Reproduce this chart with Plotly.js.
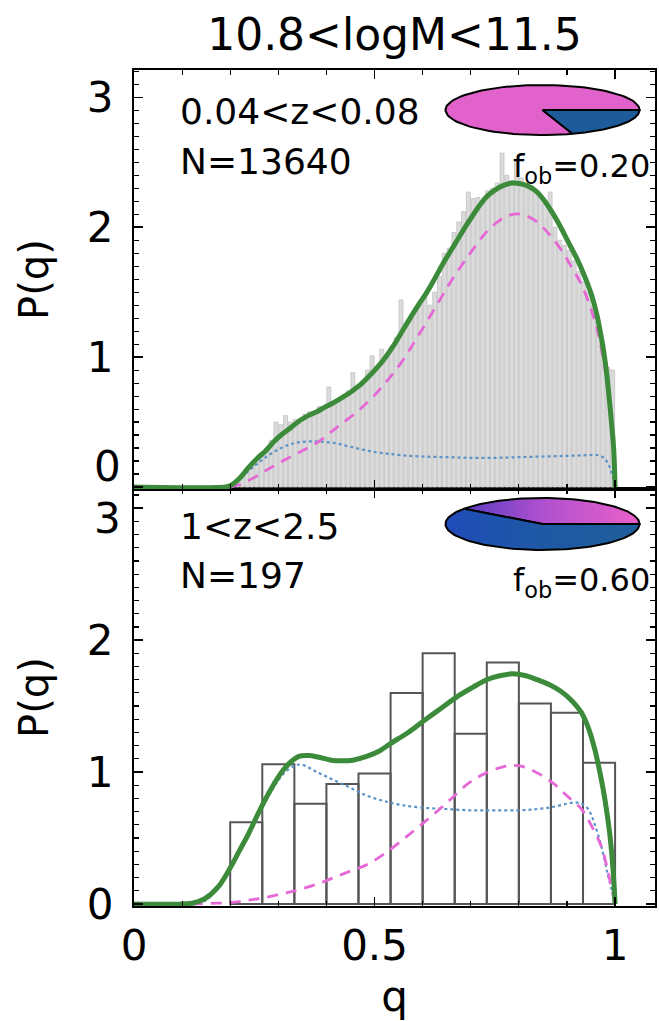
<!DOCTYPE html>
<html><head><meta charset="utf-8">
<script src="https://cdn.plot.ly/plotly-3.0.1.min.js"></script>
<style>html,body{margin:0;padding:0;background:#fff}#chart{width:659px;height:1021px}</style>
</head><body><div id="chart"></div>
<script>
// ---------- DATA ----------
const massTitle = '10.8&lt;logM&lt;11.5';
const panelLabels = ['0.04&lt;z&lt;0.08', '1&lt;z&lt;2.5'];
const panelN = ['N=13640', 'N=197'];
const fob = [0.20, 0.60];
const xTickVals = [0, 0.5, 1];
const yTickVals = [0, 1, 2, 3];
const yTickText = ['0', '1', '2', '3'];

// top panel histogram (bin width 0.01)
const topHistQ = [0.205,0.215,0.225,0.235,0.245,0.255,0.265,0.275,0.285,0.295,
  0.305,0.315,0.325,0.335,0.345,0.355,0.365,0.375,0.385,0.395,
  0.405,0.415,0.425,0.435,0.445,0.455,0.465,0.475,0.485,0.495,
  0.505,0.515,0.525,0.535,0.545,0.555,0.565,0.575,0.585,0.595,
  0.605,0.615,0.625,0.635,0.645,0.655,0.665,0.675,0.685,0.695,
  0.705,0.715,0.725,0.735,0.745,0.755,0.765,0.775,0.785,0.795,
  0.805,0.815,0.825,0.835,0.845,0.855,0.865,0.875,0.885,0.895,
  0.905,0.915,0.925,0.935,0.945,0.955,0.965,0.975,0.985,0.995];
const topHistP = [0.03,0.06,0.10,0.14,0.18,0.22,0.26,0.30,0.36,0.50,
  0.48,0.55,0.50,0.52,0.49,0.56,0.58,0.55,0.62,0.60,
  0.77,0.66,0.68,0.70,0.74,0.88,0.76,0.80,0.90,1.01,
  0.93,1.06,1.02,1.08,1.15,1.44,1.25,1.30,1.38,1.42,
  1.46,1.40,1.50,1.62,1.80,1.84,1.96,2.04,2.12,2.27,
  2.22,2.23,2.20,2.28,2.30,2.34,2.57,2.40,2.36,2.52,
  2.38,2.30,2.32,2.27,2.24,2.20,2.27,2.00,1.90,1.86,
  1.82,1.74,1.66,1.58,1.50,1.40,1.28,1.10,0.92,0.90];

// top panel model curves
const topSumQ = [0,0.19,0.2,0.22,0.238,0.256,0.274,0.291,0.309,0.327,0.344,0.362,0.38,0.397,0.415,0.433,0.45,0.468,0.485,0.503,0.521,0.538,0.556,0.574,0.591,0.609,0.626,0.644,0.662,0.68,0.697,0.715,0.732,0.75,0.767,0.787,0.803,0.817,0.835,0.852,0.87,0.887,0.905,0.923,0.937,0.951,0.962,0.972,0.98,0.986,0.992,0.997,1.0];
const topSumP = [0,0,0.01,0.07,0.15,0.22,0.28,0.35,0.41,0.46,0.51,0.55,0.58,0.615,0.65,0.69,0.73,0.78,0.84,0.91,0.99,1.08,1.19,1.30,1.40,1.50,1.61,1.73,1.84,1.95,2.05,2.15,2.23,2.285,2.32,2.34,2.335,2.32,2.28,2.21,2.11,2.0,1.87,1.74,1.62,1.48,1.33,1.14,0.95,0.75,0.52,0.3,0];
const topPinkQ = [0.2,0.22,0.253,0.28,0.309,0.345,0.38,0.405,0.429,0.457,0.485,0.52,0.556,0.59,0.626,0.66,0.697,0.732,0.767,0.79,0.803,0.82,0.838,0.862,0.887,0.91,0.93,0.95,0.965,0.977,0.986,0.993,1.0];
const topPinkP = [0,0.02,0.08,0.14,0.2,0.27,0.34,0.41,0.48,0.56,0.65,0.79,0.96,1.16,1.38,1.59,1.79,1.96,2.07,2.10,2.10,2.08,2.04,1.95,1.83,1.69,1.56,1.37,1.18,0.95,0.72,0.45,0];
const topBlueQ = [0.18,0.2,0.224,0.25,0.274,0.3,0.33,0.358,0.385,0.415,0.45,0.485,0.52,0.556,0.6,0.65,0.7,0.75,0.8,0.85,0.9,0.94,0.965,0.978,0.988,0.995,1.0];
const topBlueP = [0,0.01,0.08,0.16,0.23,0.29,0.335,0.35,0.35,0.34,0.31,0.28,0.26,0.245,0.235,0.23,0.225,0.225,0.23,0.235,0.24,0.245,0.245,0.22,0.16,0.08,0];

// bottom panel histogram (bin width 1/15)
const lowHistQ = [0.2333,0.3,0.3667,0.4333,0.5,0.5667,0.6333,0.7,0.7667,0.8333,0.9,0.9667];
const lowHistP = [0.62,1.06,0.76,0.91,0.99,1.60,1.90,1.29,1.83,1.52,1.45,1.07];

// bottom panel model curves
const lowSumQ = [0,0.1,0.125,0.147,0.175,0.201,0.22,0.239,0.256,0.274,0.291,0.309,0.327,0.344,0.365,0.387,0.41,0.429,0.455,0.485,0.51,0.535,0.57,0.603,0.637,0.671,0.703,0.733,0.76,0.787,0.815,0.838,0.865,0.888,0.91,0.93,0.945,0.958,0.97,0.979,0.989,0.996,1.0];
const lowSumP = [0,0,0.01,0.04,0.13,0.28,0.41,0.54,0.67,0.80,0.91,1.01,1.08,1.12,1.125,1.11,1.09,1.085,1.09,1.12,1.16,1.22,1.30,1.39,1.48,1.57,1.64,1.70,1.73,1.745,1.73,1.70,1.66,1.61,1.54,1.45,1.33,1.17,0.97,0.79,0.53,0.25,0];
const lowPinkQ = [0.12,0.16,0.2,0.24,0.274,0.31,0.344,0.38,0.415,0.45,0.485,0.52,0.556,0.59,0.626,0.66,0.697,0.73,0.767,0.79,0.81,0.84,0.873,0.9,0.93,0.95,0.972,0.985,0.995,1.0];
const lowPinkP = [0,0.005,0.01,0.03,0.05,0.08,0.11,0.15,0.2,0.25,0.30,0.38,0.48,0.58,0.69,0.80,0.92,0.99,1.04,1.05,1.04,0.99,0.91,0.82,0.72,0.60,0.43,0.25,0.08,0];
const lowBlueQ = [0.12,0.15,0.2,0.24,0.274,0.309,0.335,0.35,0.38,0.415,0.45,0.485,0.52,0.556,0.6,0.65,0.7,0.75,0.8,0.838,0.87,0.9,0.916,0.93,0.944,0.958,0.972,0.985,0.995,1.0];
const lowBlueP = [0,0.03,0.27,0.53,0.78,0.98,1.05,1.055,1.0,0.94,0.88,0.82,0.78,0.75,0.73,0.72,0.71,0.71,0.71,0.72,0.735,0.76,0.77,0.76,0.72,0.60,0.43,0.22,0.08,0];

// ---------- STYLE ----------
const FONT = 'DejaVu Sans';
const GREEN = '#3b8b3b', PINK = '#e668d6', BLUE = '#5b92c8';
const PIE_PINK = '#e262cb', PIE_BLUE = '#1d5b9b';

function curves(xa, ya, sq, sp, pq, pp, bq, bp) {
  return [
    {x: bq, y: bp, xaxis: xa, yaxis: ya, type: 'scatter', mode: 'lines', line: {color: BLUE, width: 2.2, dash: 'dot', shape: 'spline'}, hoverinfo: 'skip'},
    {x: pq, y: pp, xaxis: xa, yaxis: ya, type: 'scatter', mode: 'lines', line: {color: PINK, width: 2.8, dash: '11px,8px', shape: 'spline'}, hoverinfo: 'skip'},
    {x: sq, y: sp, xaxis: xa, yaxis: ya, type: 'scatter', mode: 'lines', line: {color: GREEN, width: 5, shape: 'spline'}, hoverinfo: 'skip'}
  ];
}

// pie insets, drawn in a pixel-unit overlay subplot
const pies = [{cx: 542.5, cy: 110, a: 97, b: 25}, {cx: 542.5, cy: 524, a: 97, b: 26}];
function wedge(p, t0, t1) {
  const xs = [p.cx], ys = [p.cy], n = 90;
  for (let i = 0; i <= n; i++) {
    const t = t0 + (t1 - t0) * i / n;
    xs.push(p.cx + p.a * Math.cos(t)); ys.push(p.cy + p.b * Math.sin(t));
  }
  xs.push(p.cx); ys.push(p.cy);
  return {xs, ys};
}
const pieTraces = [];
pies.forEach((p, k) => {
  const split = 2 * Math.PI * fob[k];
  const blue = wedge(p, 0, split), pink = wedge(p, split, 2 * Math.PI);
  const pinkT = {x: pink.xs, y: pink.ys, xaxis: 'x3', yaxis: 'y3', type: 'scatter', mode: 'lines', fill: 'toself', fillcolor: PIE_PINK, line: {color: '#000', width: 2}, hoverinfo: 'skip'};
  const blueT = {x: blue.xs, y: blue.ys, xaxis: 'x3', yaxis: 'y3', type: 'scatter', mode: 'lines', fill: 'toself', fillcolor: PIE_BLUE, line: {color: '#000', width: 2}, hoverinfo: 'skip'};
  if (k === 1) {
    pinkT.fillgradient = {type: 'horizontal', colorscale: [[0, '#5a3cc2'], [0.45, '#b050cf'], [1, '#ea60c9']]};
    blueT.fillgradient = {type: 'horizontal', colorscale: [[0, '#1f4bb8'], [0.45, '#1e58a6'], [1, '#1f5e9a']]};
  }
  pieTraces.push(pinkT, blueT);
});

const data = [
  {x: topHistQ, y: topHistP, xaxis: 'x2', yaxis: 'y2', type: 'bar', width: 0.0082,
   marker: {color: '#dcdcdc', line: {color: '#c2c2c2', width: 0.8}}, hoverinfo: 'skip'},
  ...curves('x2', 'y2', topSumQ, topSumP, topPinkQ, topPinkP, topBlueQ, topBlueP),
  {x: lowHistQ, y: lowHistP, xaxis: 'x', yaxis: 'y', type: 'bar', width: 1 / 15,
   marker: {color: 'rgba(255,255,255,0)', line: {color: '#555', width: 2}}, hoverinfo: 'skip'},
  ...curves('x', 'y', lowSumQ, lowSumP, lowPinkQ, lowPinkP, lowBlueQ, lowBlueP),
  ...pieTraces
];

const tickFont = {family: FONT, size: 42, color: '#000'};
const axBase = {showline: true, linecolor: '#000', linewidth: 2, mirror: 'ticks', ticks: 'inside', ticklen: 9,
  tickwidth: 1.5, tickcolor: '#000', showgrid: false, zeroline: false, tickfont: tickFont, fixedrange: true};
const xMinor = {tickmode: 'linear', dtick: 0.1, tick0: 0, ticklen: 5, tickwidth: 1.2, tickcolor: '#000', ticks: 'inside'};
const yMinor = {tickmode: 'linear', dtick: 0.1, tick0: 0, ticklen: 5, tickwidth: 1.2, tickcolor: '#000', ticks: 'inside'};
const split = 0.4988;
const plotLeft = 134, plotW = 521;

const annFont = {family: FONT, size: 36, color: '#000'};
const annotations = [];
[[111, 161, 168], [526, 575, 582]].forEach((ys, k) => {
  annotations.push({xref: 'x3', yref: 'y3', x: 178, y: ys[0], text: panelLabels[k], showarrow: false, xanchor: 'left', yanchor: 'middle', font: annFont});
  annotations.push({xref: 'x3', yref: 'y3', x: 178, y: ys[1], text: panelN[k], showarrow: false, xanchor: 'left', yanchor: 'middle', font: annFont});
  annotations.push({xref: 'x3', yref: 'y3', x: 652, y: ys[2], text: 'f<sub>ob</sub>=' + fob[k].toFixed(2), showarrow: false, xanchor: 'right', yanchor: 'middle', font: {family: FONT, size: 32, color: '#000'}});
});
// tick labels that sit at the shared panel border are nudged apart (as in the original)
const lblX = (122 - plotLeft) / plotW;
annotations.push({xref: 'paper', yref: 'y3', x: lblX, y: 466, text: yTickText[0], showarrow: false, xanchor: 'right', yanchor: 'middle', font: tickFont, borderpad: 0});
annotations.push({xref: 'paper', yref: 'y3', x: lblX, y: 518, text: yTickText[3], showarrow: false, xanchor: 'right', yanchor: 'middle', font: tickFont, borderpad: 0});

const layout = {
  width: 659, height: 1021,
  margin: {l: 134, r: 4, t: 70, b: 115},
  paper_bgcolor: '#fff', plot_bgcolor: 'rgba(0,0,0,0)',
  showlegend: false, bargap: 0,
  title: {text: massTitle, x: 0.5, xref: 'paper', xanchor: 'center', y: 1 - 35 / 1021, yref: 'container', yanchor: 'middle', font: {family: FONT, size: 44, color: '#000'}},
  xaxis: {...axBase, domain: [0, 1], anchor: 'y', range: [0, 1.083], tickmode: 'array', tickvals: xTickVals, minor: xMinor, ticklabelstandoff: 2,
    title: {text: 'q', font: {family: FONT, size: 42, color: '#000'}, standoff: 16}},
  yaxis: {...axBase, domain: [0, split], anchor: 'x', range: [-0.015, 3.145], tickmode: 'array', tickvals: yTickVals, ticktext: ['0', '1', '2', ''], minor: yMinor, ticklabelstandoff: 10,
    title: {text: 'P(q)', font: {family: FONT, size: 40, color: '#000'}, standoff: 26}},
  xaxis2: {...axBase, domain: [0, 1], anchor: 'y2', range: [0, 1.083], tickmode: 'array', tickvals: xTickVals, minor: xMinor, showticklabels: false},
  yaxis2: {...axBase, domain: [split, 1], anchor: 'x2', range: [-0.015, 3.21], tickmode: 'array', tickvals: yTickVals, ticktext: ['', '1', '2', '3'], minor: yMinor, ticklabelstandoff: 10,
    title: {text: 'P(q)', font: {family: FONT, size: 40, color: '#000'}, standoff: 26}},
  xaxis3: {domain: [0, 1], anchor: 'y3', range: [134, 655], visible: false, fixedrange: true},
  yaxis3: {domain: [0, 1], anchor: 'x3', range: [906, 70], visible: false, fixedrange: true},
  annotations
};

Plotly.newPlot('chart', data, layout, {staticPlot: true, displayModeBar: false});
</script></body></html>
